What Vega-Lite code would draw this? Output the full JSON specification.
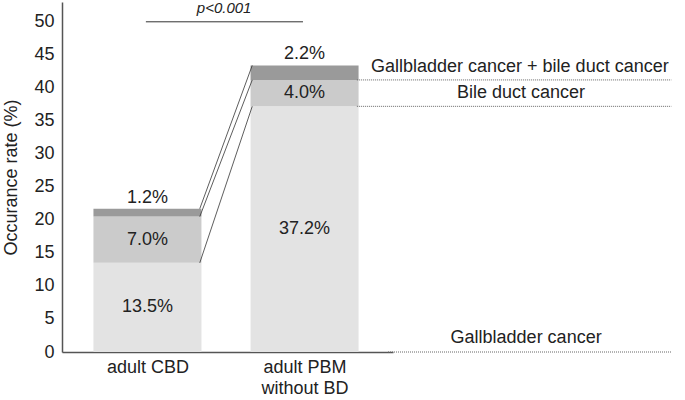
{
  "$schema": "https://vega.github.io/schema/vega-lite/v6.json",
  "autosize": "none",
  "padding": {"left": 62, "top": 2, "right": 292, "bottom": 48},
  "width": 331,
  "height": 350,
  "config": {
    "font": "Liberation Sans",
    "view": {"stroke": null},
    "axis": {"grid": false, "ticks": false, "domainColor": "#555", "domainWidth": 1.5, "labelColor": "#222", "titleColor": "#222", "labelFont": "Liberation Sans", "titleFont": "Liberation Sans", "titleFontWeight": "normal", "labelOverlap": false, "labelFontSize": 18, "titleFontSize": 18},
    "axisY": {"labelPadding": 8, "titlePadding": 13, "tickCount": 11},
    "axisX": {"labelPadding": 6, "labelLineHeight": 21}
  },
  "datasets": {
    "bars": [
      {"pos": 1, "group": "adult CBD", "k": 1, "cat": "Gallbladder cancer", "value": 13.5, "label": "13.5%"},
      {"pos": 1, "group": "adult CBD", "k": 2, "cat": "Bile duct cancer", "value": 7.0, "label": "7.0%"},
      {"pos": 1, "group": "adult CBD", "k": 3, "cat": "Gallbladder cancer + bile duct cancer", "value": 1.2, "label": "1.2%"},
      {"pos": 2, "group": "adult PBM without BD", "k": 1, "cat": "Gallbladder cancer", "value": 37.2, "label": "37.2%"},
      {"pos": 2, "group": "adult PBM without BD", "k": 2, "cat": "Bile duct cancer", "value": 4.0, "label": "4.0%"},
      {"pos": 2, "group": "adult PBM without BD", "k": 3, "cat": "Gallbladder cancer + bile duct cancer", "value": 2.2, "label": "2.2%"}
    ],
    "links": [
      {"xa": 1.333, "ya": 13.5, "xb": 1.667, "yb": 37.2},
      {"xa": 1.333, "ya": 20.5, "xb": 1.667, "yb": 41.2},
      {"xa": 1.333, "ya": 21.7, "xb": 1.667, "yb": 43.4}
    ],
    "guides": [
      {"xa": 2.333, "xb": 4.334, "y": 41.2},
      {"xa": 2.333, "xb": 4.334, "y": 37.2},
      {"xa": 2.531, "xb": 4.334, "y": 0}
    ],
    "legendText": [
      {"x": 3.37, "y": 43.2, "text": "Gallbladder cancer + bile duct cancer"},
      {"x": 3.377, "y": 39.2, "text": "Bile duct cancer"},
      {"x": 3.41, "y": 2.1, "text": "Gallbladder cancer"}
    ],
    "sig": [
      {"xa": 0.99, "xb": 1.99, "y": 50, "text": "p<0.001", "xm": 1.488, "yt": 52.1}
    ]
  },
  "layer": [
    {
      "data": {"name": "bars"},
      "mark": {"type": "bar", "width": 108},
      "encoding": {
        "x": {"field": "pos", "type": "quantitative",
          "scale": {"domain": [0.488, 2.531], "nice": false, "zero": false},
          "axis": {"values": [1, 2], "title": null,
            "labelExpr": "datum.value == 1 ? 'adult CBD' : ['adult PBM', 'without BD']"}},
        "y": {"field": "value", "type": "quantitative", "stack": "zero",
          "scale": {"domain": [0, 53], "nice": false},
          "axis": {"values": [0, 5, 10, 15, 20, 25, 30, 35, 40, 45, 50], "title": "Occurance rate (%)"}},
        "order": {"field": "k", "type": "quantitative"},
        "color": {"field": "cat", "type": "nominal",
          "scale": {"domain": ["Gallbladder cancer", "Bile duct cancer", "Gallbladder cancer + bile duct cancer"], "range": ["#e3e3e3", "#cbcbcb", "#9a9a9a"]},
          "legend": null}
      }
    },
    {
      "data": {"name": "bars"},
      "transform": [
        {"stack": "value", "groupby": ["pos"], "sort": [{"field": "k"}], "as": ["y0", "y1"]},
        {"calculate": "(datum.y0 + datum.y1) / 2", "as": "mid"},
        {"filter": "datum.k < 3"}
      ],
      "mark": {"type": "text", "fontSize": 18, "color": "#222"},
      "encoding": {
        "x": {"field": "pos", "type": "quantitative", "axis": {"values": [1, 2], "title": null, "labelExpr": "datum.value == 1 ? 'adult CBD' : ['adult PBM', 'without BD']"}},
        "y": {"field": "mid", "type": "quantitative", "axis": {"values": [0, 5, 10, 15, 20, 25, 30, 35, 40, 45, 50], "title": "Occurance rate (%)"}},
        "text": {"field": "label"}
      }
    },
    {
      "data": {"name": "bars"},
      "transform": [
        {"stack": "value", "groupby": ["pos"], "sort": [{"field": "k"}], "as": ["y0", "y1"]},
        {"filter": "datum.k == 3"}
      ],
      "mark": {"type": "text", "fontSize": 18, "color": "#222", "baseline": "bottom", "dy": -2},
      "encoding": {
        "x": {"field": "pos", "type": "quantitative", "axis": {"values": [1, 2], "title": null, "labelExpr": "datum.value == 1 ? 'adult CBD' : ['adult PBM', 'without BD']"}},
        "y": {"field": "y1", "type": "quantitative", "axis": {"values": [0, 5, 10, 15, 20, 25, 30, 35, 40, 45, 50], "title": "Occurance rate (%)"}},
        "text": {"field": "label"}
      }
    },
    {
      "data": {"name": "links"},
      "mark": {"type": "rule", "color": "#333", "strokeWidth": 0.8, "clip": false},
      "encoding": {
        "x": {"field": "xa", "type": "quantitative", "axis": {"values": [1, 2], "title": null, "labelExpr": "datum.value == 1 ? 'adult CBD' : ['adult PBM', 'without BD']"}},
        "x2": {"field": "xb"},
        "y": {"field": "ya", "type": "quantitative", "axis": {"values": [0, 5, 10, 15, 20, 25, 30, 35, 40, 45, 50], "title": "Occurance rate (%)"}},
        "y2": {"field": "yb"}
      }
    },
    {
      "data": {"name": "guides"},
      "mark": {"type": "rule", "color": "#666", "strokeWidth": 1, "strokeDash": [1, 1], "clip": false},
      "encoding": {
        "x": {"field": "xa", "type": "quantitative", "axis": {"values": [1, 2], "title": null, "labelExpr": "datum.value == 1 ? 'adult CBD' : ['adult PBM', 'without BD']"}},
        "x2": {"field": "xb"},
        "y": {"field": "y", "type": "quantitative", "axis": {"values": [0, 5, 10, 15, 20, 25, 30, 35, 40, 45, 50], "title": "Occurance rate (%)"}}
      }
    },
    {
      "data": {"name": "legendText"},
      "mark": {"type": "text", "fontSize": 18, "color": "#222", "clip": false},
      "encoding": {
        "x": {"field": "x", "type": "quantitative", "axis": {"values": [1, 2], "title": null, "labelExpr": "datum.value == 1 ? 'adult CBD' : ['adult PBM', 'without BD']"}},
        "y": {"field": "y", "type": "quantitative", "axis": {"values": [0, 5, 10, 15, 20, 25, 30, 35, 40, 45, 50], "title": "Occurance rate (%)"}},
        "text": {"field": "text"}
      }
    },
    {
      "data": {"name": "sig"},
      "mark": {"type": "rule", "color": "#333", "strokeWidth": 1},
      "encoding": {
        "x": {"field": "xa", "type": "quantitative", "axis": {"values": [1, 2], "title": null, "labelExpr": "datum.value == 1 ? 'adult CBD' : ['adult PBM', 'without BD']"}},
        "x2": {"field": "xb"},
        "y": {"field": "y", "type": "quantitative", "axis": {"values": [0, 5, 10, 15, 20, 25, 30, 35, 40, 45, 50], "title": "Occurance rate (%)"}}
      }
    },
    {
      "data": {"name": "sig"},
      "mark": {"type": "text", "fontSize": 15, "fontStyle": "italic", "color": "#222", "baseline": "middle"},
      "encoding": {
        "x": {"field": "xm", "type": "quantitative", "axis": {"values": [1, 2], "title": null, "labelExpr": "datum.value == 1 ? 'adult CBD' : ['adult PBM', 'without BD']"}},
        "y": {"field": "yt", "type": "quantitative", "axis": {"values": [0, 5, 10, 15, 20, 25, 30, 35, 40, 45, 50], "title": "Occurance rate (%)"}},
        "text": {"field": "text"}
      }
    }
  ]
}
